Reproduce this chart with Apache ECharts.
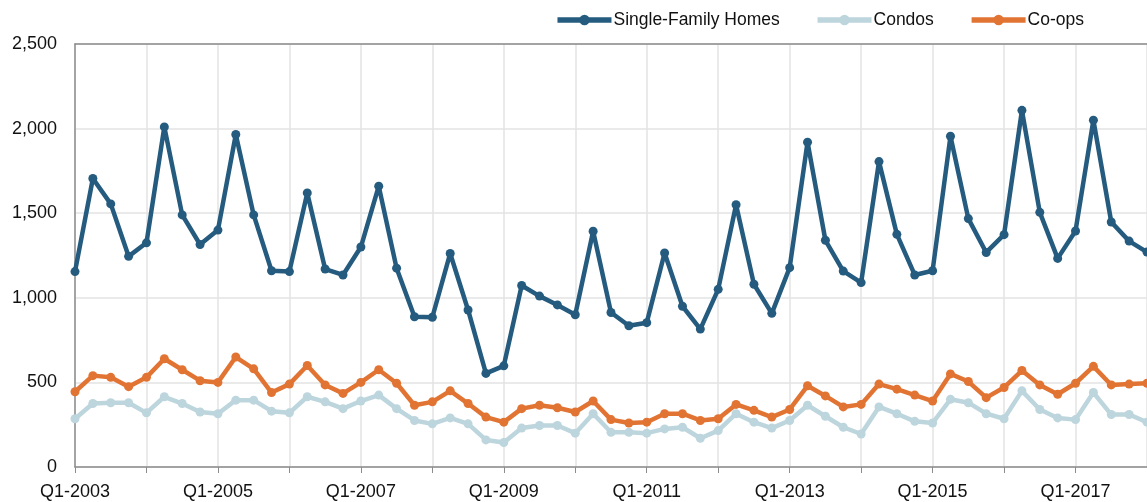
<!DOCTYPE html>
<html>
<head>
<meta charset="utf-8">
<script src="https://cdn.jsdelivr.net/npm/echarts@6/dist/echarts.min.js"></script>
<style>
  html, body { margin: 0; padding: 0; background: #fff; }
  #main { width: 1147px; height: 502px; }
</style>
</head>
<body>
<div id="main"></div>
<script>
// quarters Q1-2003 .. Q1-2018
const quarters = []
for (let y = 2003; y <= 2018; y++) {
  for (let q = 1; q <= 4; q++) {
    if (y === 2018 && q > 1) break
    quarters.push('Q' + q + '-' + y)
  }
}

const single_family = [1155, 1705, 1555, 1245, 1325, 2010, 1490, 1315, 1400, 1965,
  1490, 1160, 1155, 1620, 1170, 1135, 1300, 1660, 1175, 888,
  885, 1262, 928, 553, 598, 1073, 1010, 958, 900, 1393,
  913, 835, 853, 1265, 950, 815, 1050, 1550, 1080, 908,
  1178, 1920, 1340, 1158, 1090, 1805, 1375, 1135, 1160, 1955,
  1468, 1268, 1373, 2108, 1505, 1233, 1395, 2050, 1448, 1335, 1270]

const condos = [285, 375, 380, 380, 320, 415, 375, 325, 315, 395,
  395, 330, 320, 415, 385, 345, 390, 425, 345, 275,
  255, 290, 255, 160, 145, 230, 245, 245, 200, 315,
  205, 205, 200, 225, 235, 170, 215, 315, 265, 230,
  275, 365, 300, 235, 195, 355, 315, 270, 260, 400,
  380, 315, 285, 450, 340, 290, 280, 440, 310, 310, 265]

const coops = [445, 540, 530, 475, 530, 640, 575, 510, 500, 650,
  580, 440, 490, 600, 485, 435, 500, 575, 495, 365,
  385, 450, 375, 295, 265, 345, 365, 350, 325, 390,
  280, 260, 265, 315, 315, 275, 285, 370, 335, 295,
  340, 480, 420, 355, 370, 490, 460, 425, 390, 550,
  505, 410, 470, 570, 485, 430, 495, 595, 485, 490, 495]

const series_names = ['Single-Family Homes', 'Condos', 'Co-ops']
const series_colors = ['#245b7e', '#bdd5dd', '#e27433']
const font = 'Liberation Sans, Arial, Helvetica, sans-serif'

function make_series(name, values, color) {
  return {
    name: name,
    type: 'line',
    data: values,
    symbol: 'circle',
    symbolSize: 9,
    showSymbol: true,
    lineStyle: { width: 4.5, color: color },
    itemStyle: { color: color },
    emphasis: { disabled: true },
    animation: false
  }
}

var chartDom = document.getElementById('main')
var myChart = echarts.init(chartDom)
var option = {
  animation: false,
  textStyle: { fontFamily: font },
  legend: {
    top: 6,
    right: 58,
    itemWidth: 54,
    itemHeight: 13,
    itemGap: 35,
    lineStyle: { width: 5.5 },
    textStyle: { fontSize: 17.5, color: '#111', fontFamily: font, padding: [0, 0, 0, -3] },
    data: series_names
  },
  grid: { left: 75, right: 0, top: 44, bottom: 35, containLabel: false },
  xAxis: [
    {
      type: 'category',
      boundaryGap: false,
      data: quarters,
      axisLine: { lineStyle: { color: '#8c8c8c', width: 1.5 } },
      axisTick: { interval: 3, length: 6, lineStyle: { color: '#8c8c8c' } },
      axisLabel: { interval: 7, fontSize: 18, color: '#111', margin: 16, fontFamily: font },
      splitLine: { show: true, interval: 3, lineStyle: { color: '#e3e3e3', width: 1.5 } }
    },
    {
      type: 'category',
      position: 'top',
      boundaryGap: false,
      data: quarters,
      axisLine: { lineStyle: { color: '#8c8c8c', width: 1.5 } },
      axisTick: { show: false },
      axisLabel: { show: false },
      splitLine: { show: false }
    }
  ],
  yAxis: {
    type: 'value',
    min: 0,
    max: 2500,
    interval: 500,
    axisLine: { show: true, lineStyle: { color: '#8c8c8c', width: 1.5 } },
    axisTick: { show: false },
    axisLabel: {
      fontSize: 18, color: '#111', margin: 18, fontFamily: font,
      formatter: function (v) { return v.toLocaleString('en-US') }
    },
    splitLine: { lineStyle: { color: '#e3e3e3', width: 1.5 } }
  },
  series: [
    make_series(series_names[0], single_family, series_colors[0]),
    make_series(series_names[1], condos, series_colors[1]),
    make_series(series_names[2], coops, series_colors[2])
  ]
}
option && myChart.setOption(option)
</script>
</body>
</html>
